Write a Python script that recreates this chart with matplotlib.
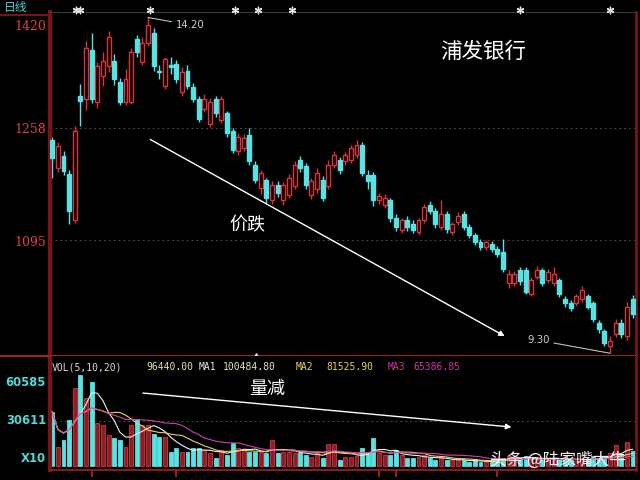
import numpy as np
import pandas as pd
import matplotlib
matplotlib.use("Agg")
import matplotlib.pyplot as plt
from matplotlib.lines import Line2D
from matplotlib.transforms import blended_transform_factory

plt.rcParams['font.family'] = ['Noto Sans CJK SC', 'DejaVu Sans']

# DAILY K-LINE DATA (price in yuan)
opens = np.array([
    12.41, 12.00, 12.18, 11.92, 11.25, 13.06, 13.01, 13.73, 12.97, 13.34,
    13.49, 13.56, 13.26, 12.97, 12.97, 13.88, 13.55, 13.83, 13.98, 13.42,
    13.20, 13.51, 13.52, 13.11, 13.42, 13.19, 13.01, 12.87, 12.65, 13.01,
    12.70, 12.80, 12.54, 12.25, 12.29, 12.48, 12.05, 11.71, 11.83, 11.53,
    11.76, 11.53, 11.61, 11.74, 12.12, 12.03, 11.61, 11.69, 11.83, 11.74,
    12.05, 12.12, 12.10, 12.12, 12.19, 12.34, 11.90, 11.90, 11.53, 11.47,
    11.53, 11.28, 11.10, 11.24, 11.18, 11.07, 11.24, 11.46, 11.38, 11.14,
    11.33, 11.07, 11.21, 11.33, 11.14, 11.02, 10.92, 10.85, 10.89, 10.82,
    10.78, 10.32, 10.32, 10.52, 10.52, 10.17, 10.42, 10.52, 10.37, 10.32,
    10.37, 10.09, 10.03, 10.03, 10.09, 10.13, 10.03, 9.74, 9.62, 9.41,
    9.58, 9.74, 9.55, 10.09])
closes = np.array([
    12.15, 12.32, 11.96, 11.38, 12.54, 12.98, 13.76, 13.01, 13.49, 13.56,
    13.92, 13.30, 12.97, 13.30, 13.69, 13.69, 13.83, 14.09, 13.49, 13.40,
    13.59, 13.48, 13.30, 13.40, 13.20, 13.01, 12.72, 13.01, 12.97, 12.80,
    13.01, 12.51, 12.26, 12.46, 12.44, 12.10, 11.83, 11.93, 11.57, 11.76,
    11.64, 11.76, 11.86, 12.05, 12.00, 11.76, 11.82, 11.93, 11.57, 12.05,
    12.19, 11.97, 12.19, 12.29, 12.34, 11.93, 11.82, 11.53, 11.60, 11.57,
    11.28, 11.14, 11.24, 11.14, 11.10, 11.24, 11.43, 11.38, 11.18, 11.33,
    11.11, 11.18, 11.31, 11.14, 11.02, 10.92, 10.85, 10.92, 10.82, 10.75,
    10.53, 10.46, 10.46, 10.35, 10.20, 10.37, 10.52, 10.32, 10.49, 10.46,
    10.17, 10.03, 9.96, 10.13, 10.23, 9.98, 9.80, 9.65, 9.45, 9.48,
    9.74, 9.58, 9.98, 9.88])
highs = np.array([
    12.45, 12.38, 12.25, 11.97, 12.62, 13.23, 13.85, 13.98, 13.55, 13.70,
    14.00, 13.66, 13.32, 13.45, 13.76, 13.95, 13.92, 14.20, 14.05, 13.50,
    13.62, 13.62, 13.58, 13.48, 13.50, 13.24, 13.06, 13.08, 13.02, 13.06,
    13.05, 12.84, 12.58, 12.52, 12.50, 12.58, 12.10, 11.98, 11.86, 11.82,
    11.82, 11.80, 11.92, 12.10, 12.18, 12.08, 11.86, 12.00, 11.88, 12.12,
    12.25, 12.16, 12.24, 12.34, 12.41, 12.38, 11.97, 11.94, 11.64, 11.62,
    11.57, 11.33, 11.28, 11.30, 11.24, 11.28, 11.48, 11.52, 11.42, 11.53,
    11.38, 11.22, 11.36, 11.38, 11.18, 11.06, 10.97, 10.96, 10.94, 10.86,
    10.97, 10.52, 10.50, 10.56, 10.56, 10.42, 10.58, 10.55, 10.53, 10.56,
    10.40, 10.14, 10.07, 10.17, 10.28, 10.17, 10.06, 9.78, 9.66, 9.55,
    9.80, 9.80, 10.05, 10.15])
lows = np.array([
    11.86, 11.95, 11.90, 11.18, 11.20, 12.62, 12.85, 12.95, 12.88, 13.20,
    13.40, 13.22, 12.92, 12.93, 12.94, 13.62, 13.50, 13.78, 13.42, 13.30,
    13.15, 13.38, 13.25, 13.05, 13.15, 12.97, 12.68, 12.82, 12.60, 12.75,
    12.66, 12.46, 12.22, 12.20, 12.25, 12.05, 11.78, 11.62, 11.50, 11.48,
    11.58, 11.47, 11.56, 11.70, 11.95, 11.70, 11.55, 11.64, 11.52, 11.70,
    12.00, 11.92, 12.05, 12.08, 12.15, 11.88, 11.70, 11.45, 11.48, 11.42,
    11.22, 11.08, 11.05, 11.08, 11.05, 11.03, 11.20, 11.33, 11.13, 11.10,
    11.06, 11.02, 11.17, 11.10, 10.98, 10.88, 10.80, 10.80, 10.78, 10.70,
    10.48, 10.25, 10.28, 10.30, 10.16, 10.14, 10.38, 10.28, 10.33, 10.28,
    10.12, 9.98, 9.92, 9.99, 10.05, 9.94, 9.75, 9.60, 9.40, 9.30,
    9.54, 9.52, 9.50, 9.82])
volumes = np.array([
    36700, 12900, 17700, 31300, 53000, 61900, 46200, 57100, 29200, 27900,
    21100, 19000, 17700, 12900, 27900, 32000, 27900, 27900, 21800, 19700,
    19700, 9500, 12200, 9500, 9500, 12200, 12200, 10900, 8800, 5400,
    10900, 7500, 15600, 12200, 10900, 9500, 9500, 9500, 8800, 17700,
    8800, 9500, 9500, 8800, 8800, 7500, 6100, 8800, 5400, 15000,
    15000, 4000, 6100, 6100, 7000, 12200, 8800, 19000, 8800, 7500,
    7500, 10900, 7500, 5400, 5400, 6100, 7500, 5400, 4000, 5400,
    4000, 4000, 4000, 4000, 2700, 4000, 2700, 2700, 3500, 4200,
    5500, 6500, 6000, 4500, 7000, 5000, 4500, 5000, 3800, 4500,
    5200, 4000, 4600, 3500, 5000, 4200, 6500, 5200, 6000, 9000,
    14000, 8000, 16000, 10000])

vol_header = [("VOL(5,10,20)", 52, "#d8d8d8"), ("96440.00", 146, "#e8e0b0"),
              ("MA1", 199, "#e8e8e8"), ("100484.80", 223, "#e8e0c0"),
              ("MA2", 296, "#e8d070"), ("81525.90", 326, "#e8d070"),
              ("MA3", 388, "#c83c9c"), ("65386.85", 413, "#c83c9c")]
news_marks = [4.2, 5.0, 17.4, 32.4, 36.5, 42.5, 83.0, 99.0]

CYAN = "#58e2e2"
RED = "#e0303c"
DARK_RED = "#8a1e28"
FRAME = "#7a1418"

idx = np.arange(len(opens))
up = closes >= opens
edge = np.where(up, RED, CYAN)

fig = plt.figure(figsize=(6.4, 4.8), dpi=100, facecolor="black")
ax = fig.add_axes([50 / 640, 124 / 480, 586 / 640, 344 / 480], facecolor="black")
vax = fig.add_axes([50 / 640, 10 / 480, 586 / 640, 114 / 480], facecolor="black")

# CANDLES
ax.vlines(idx, lows, highs, colors=edge, linewidth=1.0, zorder=2)
ax.bar(idx, np.maximum(np.abs(closes - opens), 0.015),
       bottom=np.minimum(opens, closes), width=0.7,
       color=np.where(up, "black", CYAN), edgecolor=edge,
       linewidth=1.0, zorder=3)
ax.set_xlim(-0.4, 103.6)
ax.set_ylim(9.26, 14.28)

for level in (12.58, 10.95):
    ax.axhline(level, color="#4a4a4a", linestyle=(0, (2, 3)), linewidth=0.7, zorder=1)

# HIGH / LOW LABELS
hi = int(np.argmax(highs))
lo = int(np.argmin(lows))
ax.annotate(f"{highs[hi]:.2f}", xy=(hi, highs[hi]), xytext=(21.9, 14.09),
            color="#d0d0d0", fontsize=7.3, va="center", family="DejaVu Sans",
            arrowprops=dict(arrowstyle="-", color="#c0c0c0", lw=0.8,
                            shrinkA=1, shrinkB=0))
ax.annotate(f"{lows[lo]:.2f}", xy=(lo, lows[lo]), xytext=(84.3, 9.49),
            color="#d0d0d0", fontsize=7.3, va="center", family="DejaVu Sans",
            arrowprops=dict(arrowstyle="-", color="#c0c0c0", lw=0.8,
                            shrinkA=1, shrinkB=0))

# TREND ARROW + TEXT
ax.annotate("", xy=(80.3, 9.55), xytext=(17.4, 12.42),
            arrowprops=dict(arrowstyle="-|>", color="white", lw=1.0,
                            mutation_scale=8, shrinkA=0, shrinkB=0))
ax.text(34.7, 11.17, "价跌", color="white", fontsize=13, ha="center", va="center")
ax.text(76.4, 13.70, "浦发银行", color="white", fontsize=15.5, ha="center", va="center")

top_tr = blended_transform_factory(ax.transData, ax.transAxes)
ax.scatter(news_marks, [1.006] * len(news_marks), transform=top_tr,
           marker=(6, 2, 0), s=22, color="#e0e0e0", linewidths=1.0,
           clip_on=False, zorder=5)
ax.scatter([36.2], [0.0], transform=top_tr, marker="^", s=16,
           color="#e0e0e0", clip_on=False, zorder=6)

# VOLUME
vax.bar(idx, volumes, width=0.7, color=np.where(up, DARK_RED, CYAN),
        edgecolor=edge, linewidth=0.6, zorder=2)
vol = pd.Series(volumes, dtype=float)
vax.plot(idx, vol.rolling(5, min_periods=1).mean(), color="#f0f0f0", lw=0.8, zorder=3)
vax.plot(idx, vol.rolling(10, min_periods=1).mean(), color="#e8d060", lw=0.8, zorder=3)
vax.plot(idx, vol.rolling(20, min_periods=1).mean(), color="#d040b0", lw=0.8, zorder=3)
vax.axhline(30611, color="#4a4a4a", linestyle=(0, (2, 3)), linewidth=0.7, zorder=1)
vax.set_xlim(-0.4, 103.6)
vax.set_ylim(-2700, 74800)

vax.annotate("", xy=(81.5, 26500), xytext=(16.1, 49600),
             arrowprops=dict(arrowstyle="-|>", color="white", lw=1.0,
                             mutation_scale=8, shrinkA=0, shrinkB=0))
vax.text(38.1, 52400, "量减", color="white", fontsize=13, ha="center", va="center")

# FRAME
for a in (ax, vax):
    a.set_yticks([])
    a.spines["left"].set_color(FRAME)
    a.spines["left"].set_linewidth(3)
    a.spines["right"].set_color(FRAME)
    a.spines["right"].set_linewidth(2)
ax.set_xticks([])
ax.spines["top"].set_color("#3a3a3a")
ax.spines["top"].set_linewidth(0.8)
ax.spines["bottom"].set_color("#a0202c")
ax.spines["bottom"].set_linewidth(1.5)
vax.spines["top"].set_visible(False)
vax.spines["bottom"].set_color("#8a1a22")
vax.spines["bottom"].set_linewidth(1.5)
vax.set_xticks([7, 22, 58, 61, 79])
vax.tick_params(axis="x", colors="#c02030", length=5, width=1.2, labelbottom=False)

fig.add_artist(Line2D([0, 50 / 640], [1 - 15 / 480, 1 - 15 / 480],
                      transform=fig.transFigure, color=FRAME, lw=1.5))
fig.add_artist(Line2D([0, 50 / 640], [1 - 356 / 480, 1 - 356 / 480],
                      transform=fig.transFigure, color="#a0202c", lw=1.5))

# AXIS LABELS
fig.text(4 / 640, 1 - 7 / 480, "日线", color="#50d0d0", fontsize=8.5, va="center")
for txt, ypx in (("1420", 27), ("1258", 130), ("1095", 243)):
    fig.text(46 / 640, 1 - ypx / 480, txt, color="#e04050", fontsize=9,
             ha="right", va="center", family="DejaVu Serif")
for txt, ypx in (("60585", 383), ("30611", 421), ("X10", 459)):
    fig.text(46 / 640, 1 - ypx / 480, txt, color="#50d8d8", fontsize=8.4,
             ha="right", va="center", family="DejaVu Sans", weight="bold")

for txt, xpx, c in vol_header:
    fig.text(xpx / 640, 1 - 367 / 480, txt, color=c, fontsize=7.0,
             va="center", family="DejaVu Sans Mono")

fig.text(490 / 640, 1 - 460 / 480, "头条 @陆家嘴大牛", color="white",
         fontsize=12, va="center", alpha=0.95)

fig.savefig("out.png", dpi=100, facecolor="black")
